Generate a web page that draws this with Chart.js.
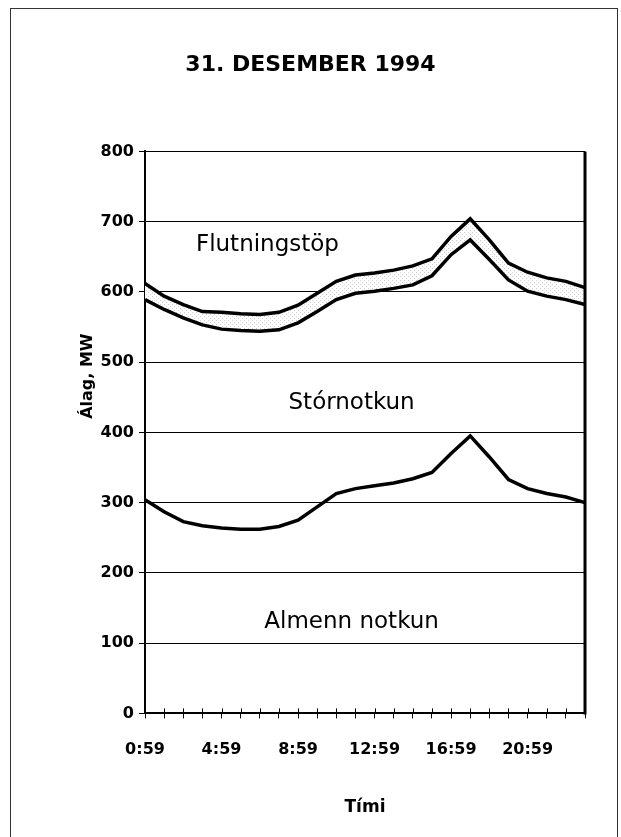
<!DOCTYPE html>
<html>
<head>
<meta charset="utf-8">
<title>31. DESEMBER 1994</title>
<script src="https://cdn.jsdelivr.net/npm/chart.js@4"></script>
<style>
  html, body { margin: 0; padding: 0; background: #fff; }
  #wrap { position: relative; width: 621px; height: 837px; overflow: hidden; }
  #frame { position: absolute; left: 10px; top: 8px; width: 606px; height: 900px; border: 1.5px solid #333; }
  #loadCanvas { position: absolute; left: 0; top: 0; }
</style>
</head>
<body>
<div id="wrap">
  <div id="frame"></div>
  <canvas id="loadCanvas" width="621" height="837"></canvas>
</div>
<script>
// Hourly load on 31 December 1994, MW

const hours = ['0:59', '1:59', '2:59', '3:59', '4:59', '5:59', '6:59', '7:59',
  '8:59', '9:59', '10:59', '11:59', '12:59', '13:59', '14:59', '15:59',
  '16:59', '17:59', '18:59', '19:59', '20:59', '21:59', '22:59', '23:59'];

// general use (lower line)
const almennNotkun = [304, 287, 273, 267, 264, 262, 262, 266, 275, 294, 313, 320,
  324, 328, 334, 343, 370, 395, 365, 333, 320, 313, 308, 300];

// + large users (middle line)
const storNotkun = [589, 575, 563, 553, 547, 545, 544, 546, 556, 572, 589, 598,
  601, 605, 610, 623, 653, 674, 646, 617, 601, 594, 589, 582];

// + transmission losses (upper line)
const flutningsTop = [612, 594, 582, 572, 571, 569, 568, 571, 581, 598, 615, 624,
  627, 631, 637, 647, 679, 704, 674, 641, 628, 620, 615, 606];

const yMin = 0;
const yMax = 800;
const yStep = 100;

// names written inside the chart
const areaNames = ['Flutningstöp', 'Stórnotkun', 'Almenn notkun'];

const canvas = document.getElementById('loadCanvas');
const ctx = canvas.getContext('2d');

// stippled grey fill for the loss band
const dots = document.createElement('canvas');
dots.width = 4;
dots.height = 4;
const dctx = dots.getContext('2d');
dctx.fillStyle = '#fff';
dctx.fillRect(0, 0, 4, 4);
dctx.fillStyle = '#cdcdcd';
dctx.fillRect(0, 0, 1, 1);
dctx.fillRect(2, 2, 1, 1);
const stipple = ctx.createPattern(dots, 'repeat');

// where the area names sit (hour index, MW)
const namePos = [[6.4, 667], [10.8, 442], [10.8, 130]];

const decorations = {
  id: 'decorations',
  afterDraw(chart) {
    const c = chart.ctx;
    const area = chart.chartArea;
    const x = chart.scales.x;
    const y = chart.scales.y;
    c.save();
    c.strokeStyle = '#000';
    // inner half of the hour ticks
    c.lineWidth = 1;
    x.ticks.forEach((t, i) => {
      const px = Math.round(x.getPixelForTick(i)) + 0.5;
      c.beginPath();
      c.moveTo(px, area.bottom - 5);
      c.lineTo(px, area.bottom);
      c.stroke();
    });
    // heavy right edge of the plot
    c.lineWidth = 3;
    c.beginPath();
    c.moveTo(area.right, area.top);
    c.lineTo(area.right, area.bottom + 1);
    c.stroke();
    // area names
    c.fillStyle = '#000';
    c.font = '23px "DejaVu Sans"';
    c.textAlign = 'center';
    c.textBaseline = 'middle';
    areaNames.forEach((name, i) => {
      c.fillText(name, x.getPixelForValue(namePos[i][0]), y.getPixelForValue(namePos[i][1]));
    });
    // y axis title, set above the middle as in the original
    c.font = 'bold 16px "DejaVu Sans"';
    c.translate(88, y.getPixelForValue(480));
    c.rotate(-Math.PI / 2);
    c.fillText('Álag, MW', 0, 0);
    c.restore();
  }
};

const lineStyle = {
  borderColor: '#000',
  borderWidth: 3.5,
  borderJoinStyle: 'miter',
  pointRadius: 0,
  tension: 0
};

new Chart(ctx, {
  type: 'line',
  data: {
    labels: hours,
    datasets: [
      Object.assign({ label: 'Almenn notkun', data: almennNotkun, fill: false }, lineStyle),
      Object.assign({ label: 'Stórnotkun', data: storNotkun, fill: false }, lineStyle),
      Object.assign({ label: 'Flutningstöp', data: flutningsTop, fill: '-1', backgroundColor: stipple }, lineStyle)
    ]
  },
  options: {
    responsive: false,
    devicePixelRatio: 1,
    animation: false,
    layout: { padding: { left: 36, right: 36, top: 0, bottom: 0 } },
    plugins: {
      legend: { display: false },
      tooltip: { enabled: false },
      title: {
        display: true,
        text: '31. DESEMBER 1994',
        color: '#000',
        font: { family: '"DejaVu Sans"', size: 22, weight: 'bold' },
        padding: { top: 52, bottom: 73 }
      }
    },
    scales: {
      x: {
        offset: false,
        grid: { display: true, drawOnChartArea: false, tickLength: 5, color: '#000' },
        border: { color: '#000', width: 2 },
        ticks: {
          autoSkip: false,
          maxRotation: 0,
          padding: 22,
          color: '#000',
          font: { family: '"DejaVu Sans"', size: 16, weight: 'bold' },
          callback: (v, i) => (i % 4 === 0 ? hours[i] : '')
        },
        title: {
          display: true,
          text: 'Tími',
          color: '#000',
          font: { family: '"DejaVu Sans"', size: 17, weight: 'bold' },
          padding: { top: 16, bottom: 19 }
        }
      },
      y: {
        min: yMin,
        max: yMax,
        afterFit: (scale) => { scale.width = 109; },
        grid: { color: '#000', lineWidth: 1, tickLength: 6 },
        border: { color: '#000', width: 2 },
        ticks: {
          stepSize: yStep,
          padding: 5,
          color: '#000',
          font: { family: '"DejaVu Sans"', size: 16, weight: 'bold' }
        }
      }
    }
  },
  plugins: [decorations]
});
</script>
</body>
</html>
